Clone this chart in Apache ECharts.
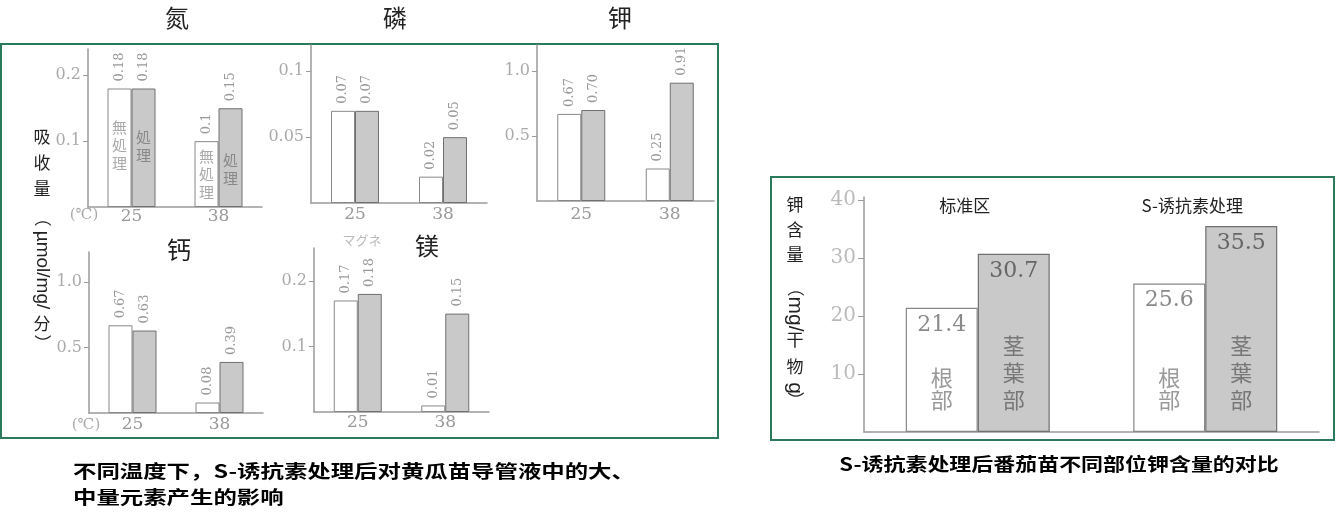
<!DOCTYPE html>
<html>
<head>
<meta charset="utf-8">
<script src="https://cdn.jsdelivr.net/npm/echarts@6/dist/echarts.min.js"></script>
<style>
  html, body { margin: 0; background: #fff; }
  #chart { width: 1336px; height: 525px; }
</style>
</head>
<body>
<div id="chart"></div>
<script>
// temperature categories (left figure)
const tempCats = ['25', '38']

// uptake, untreated / treated
const nitrogenCtrl = [0.18, 0.1]
const nitrogenTreat = [0.18, 0.15]
const phosphorusCtrl = [0.07, 0.02]
const phosphorusTreat = [0.07, 0.05]
const potassiumCtrl = [0.67, 0.25]
const potassiumTreat = [0.70, 0.91]
const calciumCtrl = [0.67, 0.08]
const calciumTreat = [0.63, 0.39]
const magnesiumCtrl = [0.17, 0.01]
const magnesiumTreat = [0.18, 0.15]

// y tick values per panel
const nitrogenTicks = [0.1, 0.2]
const phosphorusTicks = [0.05, 0.1]
const potassiumTicks = [0.5, 1.0]
const calciumTicks = [0.5, 1.0]
const magnesiumTicks = [0.1, 0.2]

// tomato potassium (right figure)
const partCats = ['标准区', 'S-诱抗素处理']
const rootK = [21.4, 25.6]
const shootK = [30.7, 35.5]
const tomatoTicks = [10, 20, 30, 40]

const SERIF = 'DejaVu Serif'
const CJK = 'Noto Sans CJK SC'
const JP = 'Noto Sans CJK JP'
const AXIS = '#9a9a9a'

const panels = [
  { title: '氮', ctrl: nitrogenCtrl, treat: nitrogenTreat, ticks: nitrogenTicks, grid: { left: 88, top: 49, width: 174, height: 158 }, max: 0.24, interval: 0.1, margin: 1 },
  { title: '磷', ctrl: phosphorusCtrl, treat: phosphorusTreat, ticks: phosphorusTicks, grid: { left: 311, top: 45, width: 176, height: 158 }, max: 0.12, interval: 0.05, margin: 3 },
  { title: '钾', ctrl: potassiumCtrl, treat: potassiumTreat, ticks: potassiumTicks, grid: { left: 537, top: 45, width: 177, height: 156 }, max: 1.2, interval: 0.5, margin: 5, fixed: 1 },
  { title: '钙', ctrl: calciumCtrl, treat: calciumTreat, ticks: calciumTicks, grid: { left: 89, top: 252, width: 174, height: 161 }, max: 1.23, interval: 0.5, margin: 3, fixed: 1 },
  { title: '镁', ctrl: magnesiumCtrl, treat: magnesiumTreat, ticks: magnesiumTicks, grid: { left: 314, top: 248, width: 175, height: 164 }, max: 0.25, interval: 0.1, margin: 2 }
]

// printed labels use two decimals, except the lone "0.1"
const fmtVal = v => (v === 0.1 ? '0.1' : v.toFixed(2))

const leftBar = (i, data, fill, border) => ({
  type: 'bar',
  xAxisIndex: i,
  yAxisIndex: i,
  data,
  barWidth: 24,
  barGap: '0%',
  silent: true,
  itemStyle: { color: fill, borderColor: border, borderWidth: 1 },
  label: {
    show: true, position: 'top', distance: 7, rotate: 90,
    align: 'left', verticalAlign: 'middle',
    color: '#999', fontFamily: SERIF, fontSize: 13,
    formatter: p => fmtVal(p.value)
  }
})

const rightBar = (data, fill, border, labelColor) => ({
  type: 'bar',
  xAxisIndex: 5,
  yAxisIndex: 5,
  data,
  barWidth: 72,
  barGap: '0%',
  silent: true,
  itemStyle: { color: fill, borderColor: border, borderWidth: 1.2 },
  label: {
    show: true, position: 'insideTop', distance: 6,
    color: labelColor, fontFamily: SERIF, fontSize: 22
  }
})

const xAxes = panels.map((p, i) => ({
  type: 'category',
  gridIndex: i,
  data: tempCats,
  axisLine: { lineStyle: { color: AXIS, width: 1.5 } },
  axisTick: { inside: true, length: 5, lineStyle: { color: AXIS } },
  axisLabel: { color: '#999', fontFamily: SERIF, fontSize: 17, margin: p.margin }
}))
xAxes.push({
  type: 'category', gridIndex: 5, data: partCats,
  axisLine: { lineStyle: { color: AXIS, width: 1.5 } },
  axisTick: { inside: true, length: 7, lineStyle: { color: AXIS } },
  axisLabel: { show: false }
})
xAxes.push({
  type: 'category', gridIndex: 5, data: partCats, position: 'top',
  axisLine: { show: false }, axisTick: { show: false },
  axisLabel: { inside: true, margin: 0, padding: [0, 26, 0, 0], color: '#222', fontFamily: CJK, fontSize: 17 }
})

const yAxes = panels.map((p, i) => ({
  type: 'value',
  gridIndex: i,
  min: 0,
  max: p.max,
  interval: p.interval,
  splitLine: { show: false },
  axisLine: { show: true, lineStyle: { color: AXIS, width: 1.5 } },
  axisTick: { show: true, length: 5, customValues: p.ticks, lineStyle: { color: AXIS } },
  axisLabel: {
    customValues: p.ticks, margin: 7,
    color: '#aaa', fontFamily: SERIF, fontSize: 16,
    formatter: v => (p.fixed ? v.toFixed(p.fixed) : String(v))
  }
}))
yAxes.push({
  type: 'value', gridIndex: 5, min: 0, max: 40.5, interval: 10,
  splitLine: { show: false },
  axisLine: { show: true, lineStyle: { color: AXIS, width: 1.5 } },
  axisTick: { show: true, length: 6, customValues: tomatoTicks, lineStyle: { color: AXIS } },
  axisLabel: { customValues: tomatoTicks, margin: 8, color: '#bbb', fontFamily: SERIF, fontSize: 20 }
})

const series = []
panels.forEach((p, i) => {
  series.push(leftBar(i, p.ctrl, '#fff', '#888'))
  series.push(leftBar(i, p.treat, '#c9c9c9', '#707070'))
})
series.push(rightBar(rootK, '#fff', '#888', '#8a8a8a'))
series.push(rightBar(shootK, '#c9c9c9', '#707070', '#666'))

const chart = echarts.init(document.getElementById('chart'))
chart.setOption({
  animation: false,
  grid: panels.map(p => p.grid).concat([{ left: 864, top: 197, width: 455, height: 235 }]),
  xAxis: xAxes,
  yAxis: yAxes,
  series
})

// --- text decorations ---
const txt = (x, y, text, font, fill, extra) => Object.assign({
  type: 'text', x, y, silent: true,
  style: { text, font, fill, align: 'center', verticalAlign: 'middle' }
}, extra || {})
const rot = { rotation: -Math.PI / 2 }

const graphic = [
  { type: 'rect', shape: { x: 1, y: 44, width: 717, height: 394 }, style: { fill: 'none', stroke: '#2b7a5b', lineWidth: 2 }, silent: true },
  { type: 'rect', shape: { x: 771, y: 177, width: 563, height: 263 }, style: { fill: 'none', stroke: '#2b7a5b', lineWidth: 2 }, silent: true },

  txt(177, 18, '氮', `24px "${CJK}"`, '#222'),
  txt(395, 18, '磷', `24px "${CJK}"`, '#222'),
  txt(620, 18, '钾', `24px "${CJK}"`, '#222'),
  txt(179, 250, '钙', `24px "${CJK}"`, '#222'),
  txt(362, 240, 'マグネ', `13px "${JP}"`, '#bbb'),
  txt(427, 246, '镁', `24px "${CJK}"`, '#222', { z: 10 }),

  txt(84, 215, '(℃)', `15px "${SERIF}"`, '#aaa'),
  txt(86, 425, '(℃)', `15px "${SERIF}"`, '#aaa'),

  // left y name
  txt(42, 137, '吸', `17px "${CJK}"`, '#222'),
  txt(42, 163, '收', `17px "${CJK}"`, '#222'),
  txt(42, 189, '量', `17px "${CJK}"`, '#222'),
  txt(42, 218, '（', `17px "${CJK}"`, '#222', rot),
  txt(42, 270, 'µmol/mg/', '19px "Liberation Sans"', '#222', rot),
  txt(42, 324, '分', `17px "${CJK}"`, '#222'),
  txt(42, 343, '）', `17px "${CJK}"`, '#222', rot),

  // right y name
  txt(795, 205, '钾', `17px "${CJK}"`, '#222'),
  txt(795, 230, '含', `17px "${CJK}"`, '#222'),
  txt(795, 255, '量', `17px "${CJK}"`, '#222'),
  txt(795, 288, '（', `17px "${CJK}"`, '#222', rot),
  txt(795, 314, 'mg/', '21px "Liberation Sans"', '#222', rot),
  txt(795, 340, '干', `17px "${CJK}"`, '#222'),
  txt(795, 367, '物', `17px "${CJK}"`, '#222'),
  txt(795, 388, 'g', '21px "Liberation Sans"', '#222', rot),
  txt(795, 400, '）', `17px "${CJK}"`, '#222', rot),

  // captions
  txt(73, 471, '不同温度下，S-诱抗素处理后对黄瓜苗导管液中的大、', `bold 18px "${CJK}"`, '#000', { scaleX: 1.3 }),
  txt(73, 497, '中量元素产生的影响', `bold 18px "${CJK}"`, '#000', { scaleX: 1.3 }),
  txt(1059, 464, 'S-诱抗素处理后番茄苗不同部位钾含量的对比', `bold 18px "${CJK}"`, '#000', { scaleX: 1.22 })
]
graphic[graphic.length - 3].style.align = 'left'
graphic[graphic.length - 2].style.align = 'left'
// white backing for the 镁 title over the faint katakana
graphic[7].style.backgroundColor = '#fff'
graphic[7].style.padding = [0, 3]

// in-bar labels, placed from the axes
const inBar = (axis, cat, val, side, bw, text, font, fill, lh) => {
  const pt = chart.convertToPixel({ xAxisIndex: axis, yAxisIndex: axis }, [cat, val])
  return txt(pt[0] + side * bw / 2, pt[1], text, font, fill, { z: 5, style: { text, font, fill, align: 'center', verticalAlign: 'middle', lineHeight: lh } })
}
graphic.push(inBar(0, 0, 0.094, -1, 24, '無\n処\n理', `15px "${JP}"`, '#aaa', 18))
graphic.push(inBar(0, 0, 0.092, 1, 24, '処\n理', `15px "${JP}"`, '#888', 18))
graphic.push(inBar(0, 1, 0.05, -1, 24, '無\n処\n理', `15px "${JP}"`, '#aaa', 18))
graphic.push(inBar(0, 1, 0.058, 1, 24, '処\n理', `15px "${JP}"`, '#888', 18))
graphic.push(inBar(5, 0, 7.4, -1, 72, '根\n部', `22px "${JP}"`, '#999', 22))
graphic.push(inBar(5, 1, 7.4, -1, 72, '根\n部', `22px "${JP}"`, '#999', 22))
graphic.push(inBar(5, 0, 10.2, 1, 72, '茎\n葉\n部', `22px "${JP}"`, '#777', 27))
graphic.push(inBar(5, 1, 10.2, 1, 72, '茎\n葉\n部', `22px "${JP}"`, '#777', 27))

chart.setOption({ graphic })
</script>
</body>
</html>
